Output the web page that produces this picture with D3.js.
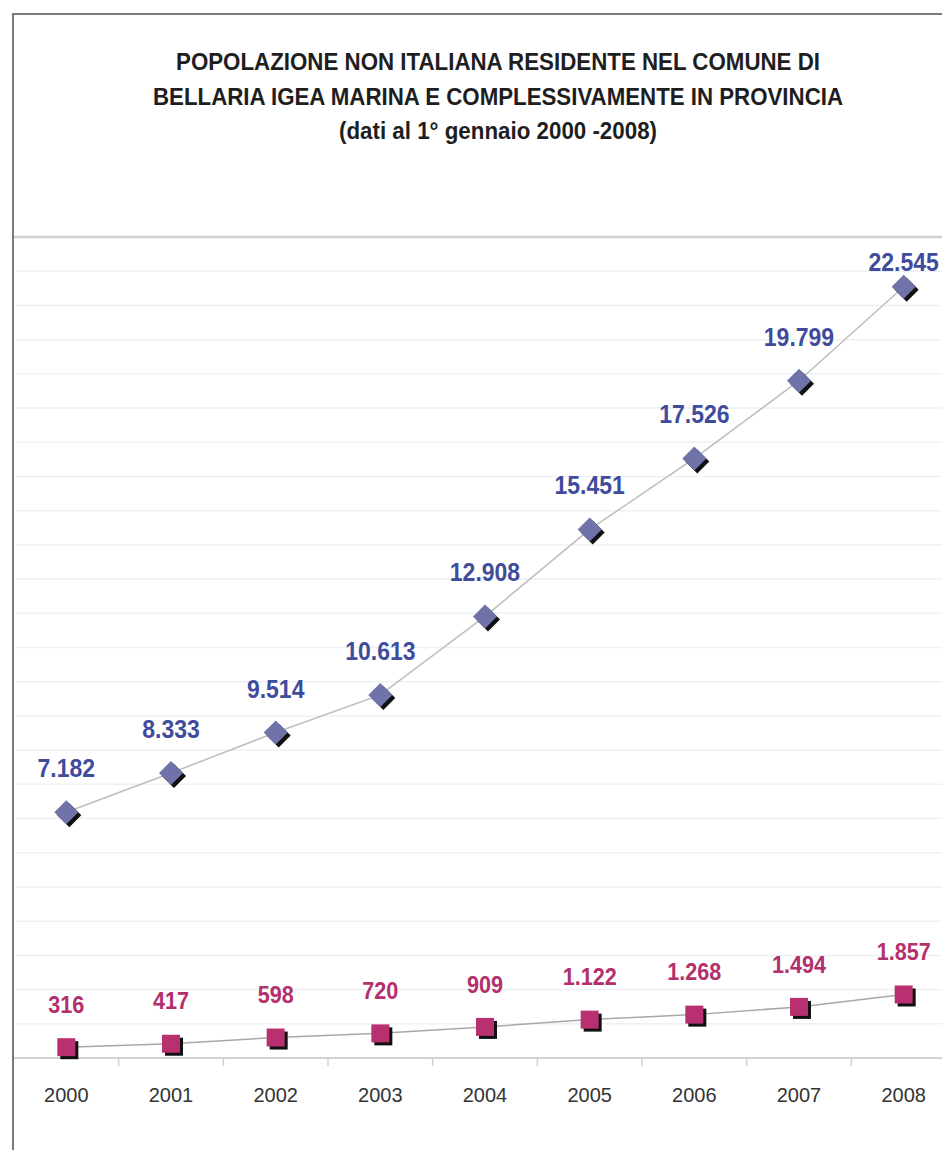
<!DOCTYPE html>
<html>
<head>
<meta charset="utf-8">
<script src="https://cdn.jsdelivr.net/npm/d3@7"></script>
<style>
  body { margin: 0; background: #fff; }
  svg { display: block; font-family: "Liberation Sans", Arial, sans-serif; }
</style>
</head>
<body>
<svg id="chart" width="942" height="1166"></svg>
<script>
const years = ['2000', '2001', '2002', '2003', '2004', '2005', '2006', '2007', '2008']
const provincia = [7182, 8333, 9514, 10613, 12908, 15451, 17526, 19799, 22545]
const comune = [316, 417, 598, 720, 909, 1122, 1268, 1494, 1857]
const titleLines = [
    'POPOLAZIONE NON ITALIANA RESIDENTE NEL COMUNE DI',
    'BELLARIA IGEA MARINA E COMPLESSIVAMENTE IN PROVINCIA',
    '(dati al 1° gennaio 2000 -2008)'
]

const svg = d3.select('#chart')
const fmt = d3.formatLocale({decimal: ',', thousands: '.', grouping: [3], currency: ['', '']}).format(',')

const x = d3.scaleBand(years, [14, 956])
const y = d3.scaleLinear([0, 24000], [1058, 237])
const cx = d => x(d) + x.bandwidth() / 2

// frame
svg.append('path')
    .attr('d', 'M13,1150 V14 H942')
    .attr('fill', 'none')
    .attr('stroke', '#7a7a7a')
    .attr('stroke-width', 2)

// gridlines
svg.append('g')
    .selectAll('line')
    .data(d3.range(1000, 24000, 1000))
    .join('line')
    .attr('x1', 15).attr('x2', 942)
    .attr('y1', d => y(d)).attr('y2', d => y(d))
    .attr('stroke', '#edf1f5')
    .attr('stroke-width', 1.5)

svg.append('line')
    .attr('x1', 14).attr('x2', 942)
    .attr('y1', y(24000)).attr('y2', y(24000))
    .attr('stroke', '#cfcfcf')
    .attr('stroke-width', 2.5)

// x axis
const xAxis = d3.axisBottom(x).tickSize(0).tickPadding(30)
const ax = svg.append('g')
    .attr('transform', `translate(0,${y(0)})`)
    .call(xAxis)
ax.select('.domain').remove()
ax.selectAll('text')
    .attr('font-size', '20px')
    .attr('fill', '#333')
    .attr('font-family', '"Liberation Sans", Arial, sans-serif')

svg.append('line')
    .attr('x1', 14).attr('x2', 942)
    .attr('y1', y(0)).attr('y2', y(0))
    .attr('stroke', '#d2d2d2')
    .attr('stroke-width', 2)

svg.append('g')
    .selectAll('line')
    .data(years.slice(1))
    .join('line')
    .attr('x1', d => x(d)).attr('x2', d => x(d))
    .attr('y1', y(0)).attr('y2', y(0) + 8)
    .attr('stroke', '#d2d2d2')
    .attr('stroke-width', 1.5)

// lines
const line = d3.line().x((d, i) => cx(years[i])).y(d => y(d))
svg.append('path')
    .datum(provincia)
    .attr('d', line)
    .attr('fill', 'none')
    .attr('stroke', '#bdbdbd')
    .attr('stroke-width', 1.5)
svg.append('path')
    .datum(comune)
    .attr('d', line)
    .attr('fill', 'none')
    .attr('stroke', '#a8a8a8')
    .attr('stroke-width', 1.5)

// diamonds
const diamond = 'M0,-12 L12,0 L0,12 L-12,0 Z'
const dg = svg.append('g')
dg.selectAll('path.shadow')
    .data(provincia)
    .join('path')
    .attr('class', 'shadow')
    .attr('d', diamond)
    .attr('transform', (d, i) => `translate(${cx(years[i]) + 3},${y(d) + 3})`)
    .attr('fill', '#111')
dg.selectAll('path.mark')
    .data(provincia)
    .join('path')
    .attr('class', 'mark')
    .attr('d', diamond)
    .attr('transform', (d, i) => `translate(${cx(years[i])},${y(d)})`)
    .attr('fill', '#6f73a9')

// squares
const sg = svg.append('g')
sg.selectAll('rect.shadow')
    .data(comune)
    .join('rect')
    .attr('class', 'shadow')
    .attr('x', (d, i) => cx(years[i]) - 9 + 3)
    .attr('y', d => y(d) - 9 + 3)
    .attr('width', 18).attr('height', 18)
    .attr('fill', '#111')
sg.selectAll('rect.mark')
    .data(comune)
    .join('rect')
    .attr('class', 'mark')
    .attr('x', (d, i) => cx(years[i]) - 9)
    .attr('y', d => y(d) - 9)
    .attr('width', 18).attr('height', 18)
    .attr('fill', '#b83070')

// value labels
svg.append('g')
    .selectAll('text')
    .data(provincia)
    .join('text')
    .attr('transform', (d, i) => `translate(${cx(years[i])},${Math.max(y(d) - 44, 262)}) scale(0.92,1)`)
    .attr('dy', '0.36em')
    .attr('text-anchor', 'middle')
    .attr('font-size', '25px')
    .attr('font-weight', 'bold')
    .attr('fill', '#3f4c9c')
    .text(d => fmt(d))

svg.append('g')
    .selectAll('text')
    .data(comune)
    .join('text')
    .attr('transform', (d, i) => `translate(${cx(years[i])},${y(d) - 43}) scale(0.9,1)`)
    .attr('dy', '0.36em')
    .attr('text-anchor', 'middle')
    .attr('font-size', '24px')
    .attr('font-weight', 'bold')
    .attr('fill', '#b3306b')
    .text(d => fmt(d))

// title
const titleWidths = [644, 690, 318]
svg.append('g')
    .selectAll('text')
    .data(titleLines)
    .join('text')
    .attr('x', 498)
    .attr('y', (d, i) => 62 + i * 34.5)
    .attr('dy', '0.36em')
    .attr('text-anchor', 'middle')
    .attr('font-size', '23px')
    .attr('font-weight', 'bold')
    .attr('fill', '#1e1e1e')
    .attr('textLength', (d, i) => titleWidths[i])
    .attr('lengthAdjust', 'spacingAndGlyphs')
    .text(d => d)
</script>
</body>
</html>
